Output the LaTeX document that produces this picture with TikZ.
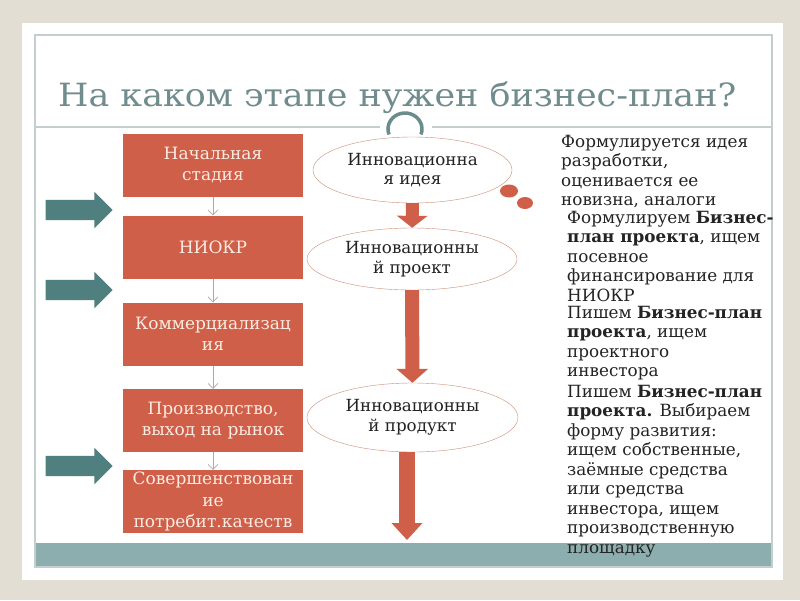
\documentclass[tikz,border=0pt]{standalone}
\usepackage{fontspec}
\usepackage{graphicx}
\setmainfont{DejaVu Serif}
\usetikzlibrary{shapes.geometric,shapes.arrows,arrows.meta}

\definecolor{bgbeige}{RGB}{227,222,212}
\definecolor{boxred}{RGB}{207,95,73}
\definecolor{boxtext}{RGB}{250,236,226}
\definecolor{tealarrow}{RGB}{80,127,128}
\definecolor{tealbar}{RGB}{140,174,174}
\definecolor{titlecol}{RGB}{112,140,140}
\definecolor{framecol}{RGB}{196,206,206}
\definecolor{loopcol}{RGB}{105,140,140}
\definecolor{ellline}{RGB}{205,140,120}
\definecolor{thinarrow}{RGB}{185,165,160}
\definecolor{textcol}{RGB}{35,35,35}

\begin{document}
\begin{tikzpicture}
[x=1pt,y=-1pt,%
  stage/.style={fill=boxred,text=boxtext,minimum width=180pt,minimum height=63pt,inner sep=0pt,align=center,font=\fontsize{17}{21.5}\selectfont},%
  phase/.style={ellipse,draw=ellline,thin,fill=white,inner sep=0pt,align=center,text=textcol,font=\fontsize{16.7}{19.5}\selectfont},%
  note/.style={anchor=north west,inner sep=0pt,align=left,text=textcol,font=\fontsize{16.8}{19.5}\selectfont},%
  sideArrow/.style={single arrow,fill=tealarrow,minimum height=67pt,inner xsep=0pt,inner ysep=10pt,single arrow head extend=8pt}]
%% slide
\fill[bgbeige] (0,0) rectangle (800,600);
\fill[white] (22,23) rectangle (783,580);
\fill[tealbar] (35,543) rectangle (772,567);
\draw[framecol,line width=1.5pt] (35,35) rectangle (772,567);
\draw[framecol,line width=1.5pt] (35,127) -- (380,127) (432,127) -- (772,127);
\node[anchor=base west,inner sep=0pt,text=titlecol,font=\fontsize{32}{32}\selectfont] (title) at (58,106) {\scalebox{1.09}[1]{На каком этапе нужен бизнес-план?}};
\draw[loopcol,line width=3.5pt] (405,129) ++(20:17 and 16) arc[start angle=20,end angle=-200,x radius=17,y radius=16];
%%
\node[stage] (start) at (213,165) {Начальная\\стадия};
\node[stage] (niokr) at (213,247) {НИОКР};
\node[stage] (comm) at (213,334) {Коммерциализац\\ия};
\node[stage] (market) at (213,420.5) {Производство,\\выход на рынок};
\node[stage] (improve) at (213,501.5) {Совершенствован\\ие\\потребит.качеств};
\path
\foreach \startNode/\endNode in {start/niokr, niokr/comm, comm/market, market/improve}
{
  (\startNode) edge[thinarrow,semithick,-{Straight Barb[length=5pt,width=10pt]}] (\endNode)
};
%%
\node[sideArrow] (inA) at (74,210) {};
\node[sideArrow] (inB) at (74,290) {};
\node[sideArrow] (inC) at (74,466) {};
%%
\node[phase,minimum width=199pt,minimum height=66pt] (idea) at (412.5,170) {Инновационна\\я идея};
\node[phase,minimum width=210pt,minimum height=62pt] (project) at (412,259) {Инновационны\\й проект};
\node[phase,minimum width=211pt,minimum height=69pt] (product) at (412.5,417.5) {Инновационны\\й продукт};
\coordinate (down) at (407,540);
\draw[boxred,line width=13pt,-{Triangle[width=30pt,length=12pt]}] (idea) -- (project);
\draw[boxred,line width=14pt,-{Triangle[width=31pt,length=14pt]}] (project) -- (product);
\draw[boxred,line width=16pt,-{Triangle[width=30pt,length=17pt]}] (product.south -| down) -- (down);
\fill[boxred] (509,191) ellipse[x radius=9,y radius=6.5];
\fill[boxred] (525,203) ellipse[x radius=8,y radius=6];
%%
\node[note] (noteIdea) at (561,135) {Формулируется идея\\разработки,\\оценивается ее\\новизна, аналоги};
\node[note] (noteProject) at (567,211) {Формулируем \textbf{Бизнес-}\\\textbf{план проекта}, ищем\\посевное\\финансирование для\\НИОКР};
\node[note] (noteInvest) at (567,306) {Пишем \textbf{Бизнес-план}\\\textbf{проекта}, ищем\\проектного\\инвестора};
\node[note] (noteGrow) at (567,385) {Пишем \textbf{Бизнес-план}\\\textbf{проекта.} Выбираем\\форму развития:\\ищем собственные,\\заёмные средства\\или средства\\инвестора, ищем\\производственную\\площадку};
\end{tikzpicture}
\end{document}
